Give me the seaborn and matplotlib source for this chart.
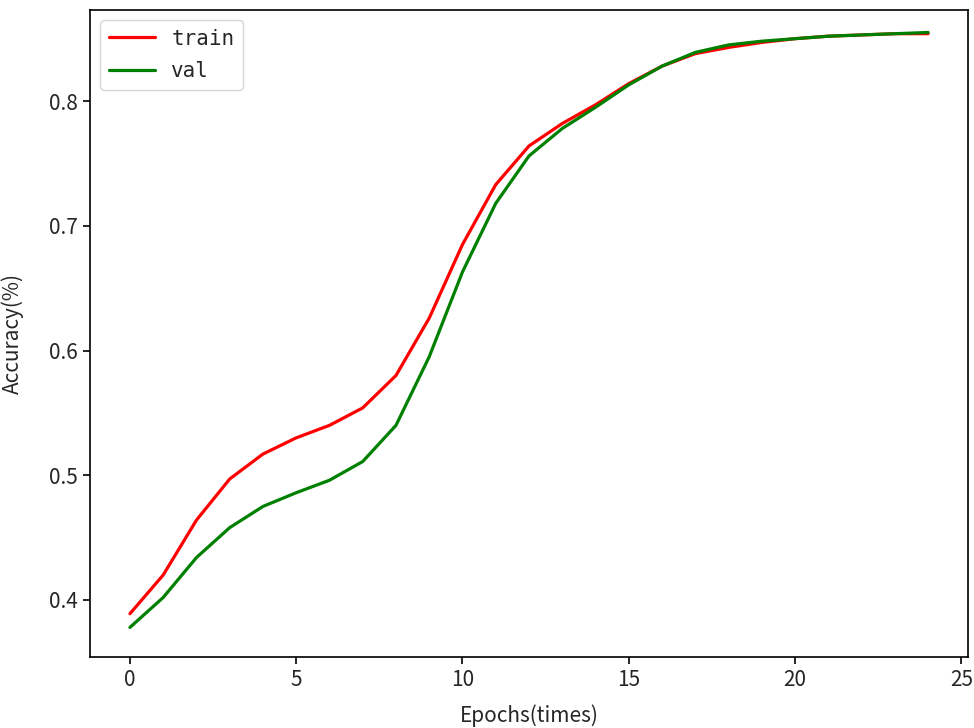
import numpy as np
import pandas as pd
import matplotlib
matplotlib.use("Agg")
import matplotlib.pyplot as plt
import seaborn as sns

epochs = list(range(25))
train_acc = [0.389, 0.420, 0.464, 0.497, 0.517, 0.530, 0.540, 0.554, 0.580, 0.626,
             0.685, 0.733, 0.764, 0.782, 0.797, 0.814, 0.828, 0.838, 0.843, 0.847,
             0.850, 0.852, 0.853, 0.854, 0.854]
val_acc = [0.378, 0.402, 0.434, 0.458, 0.475, 0.486, 0.496, 0.511, 0.540, 0.595,
           0.663, 0.718, 0.756, 0.778, 0.795, 0.813, 0.828, 0.839, 0.845, 0.848,
           0.850, 0.852, 0.853, 0.854, 0.855]

df = pd.DataFrame({
    "epoch": epochs * 2,
    "acc": train_acc + val_acc,
    "split": ["train"] * 25 + ["val"] * 25,
})

sns.set_theme(style="ticks")
plt.rcParams['font.family'] = ['Noto Sans CJK SC', 'DejaVu Sans']
plt.rcParams['axes.unicode_minus'] = False

fig = plt.figure(figsize=(9.74, 7.28), dpi=100)
ax = fig.add_axes([90 / 974, 1 - 657 / 728, 878 / 974, 647 / 728])

sns.lineplot(data=df, x="epoch", y="acc", hue="split",
             palette={"train": "red", "val": "green"}, linewidth=2.3, ax=ax)

ax.set_xlim(-1.2, 25.2)
ax.set_ylim(0.3543, 0.873)
ax.set_xticks([0, 5, 10, 15, 20, 25])
ax.set_yticks([0.4, 0.5, 0.6, 0.7, 0.8])
ax.tick_params(labelsize=15, length=5, width=1.2, color="black")
for s in ax.spines.values():
    s.set_color("black")
    s.set_linewidth(1.2)
ax.set_xlabel("Epochs(times)", fontsize=15, labelpad=10)
ax.set_ylabel("Accuracy(%)", fontsize=15, labelpad=18)
leg = ax.legend(loc="upper left", title=None, handlelength=2.2,
                labelspacing=0.6, frameon=True, edgecolor="#cccccc",
                prop={"family": "DejaVu Sans Mono", "size": 15})

fig.savefig("out.png", dpi=100)
